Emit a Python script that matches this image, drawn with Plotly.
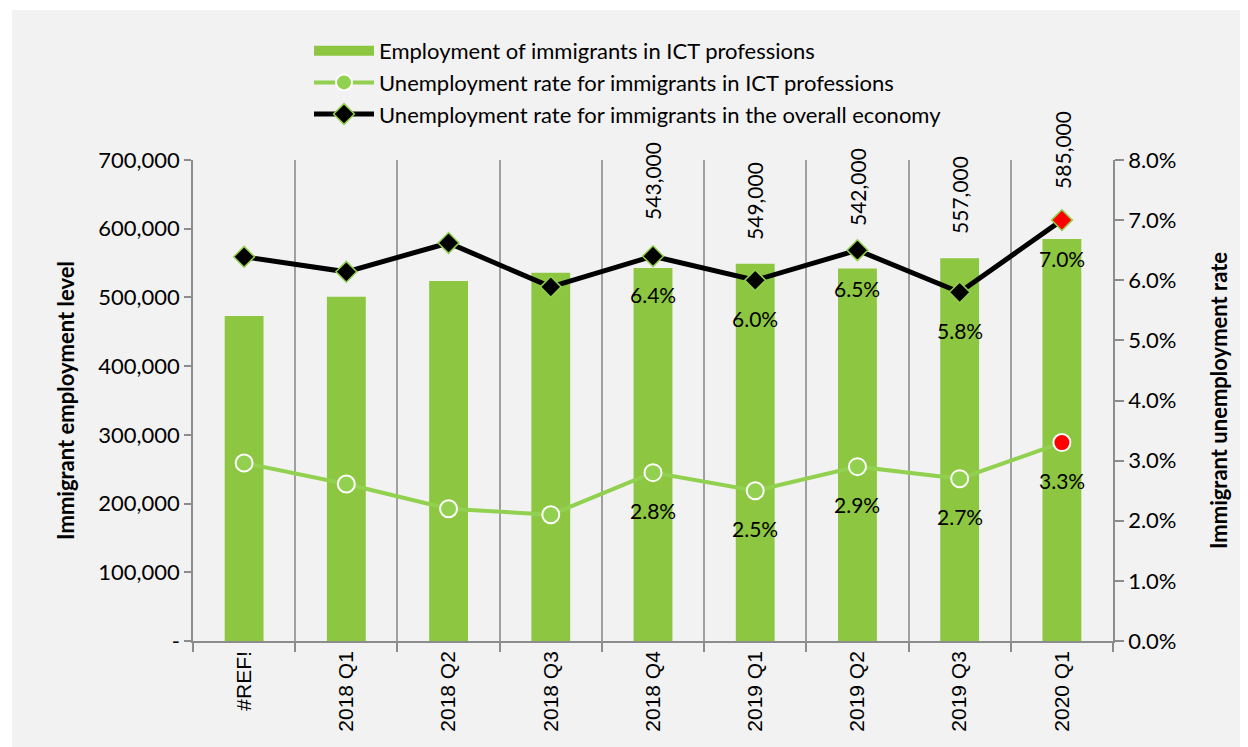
import plotly.graph_objects as go

categories = ["#REF!", "2018 Q1", "2018 Q2", "2018 Q3", "2018 Q4", "2019 Q1", "2019 Q2", "2019 Q3", "2020 Q1"]
employment = [473000, 501000, 524000, 536000, 543000, 549000, 542000, 557000, 585000]
ict_rate = [0.0296, 0.0261, 0.0220, 0.0210, 0.028, 0.025, 0.029, 0.027, 0.033]
overall_rate = [0.0639, 0.0614, 0.0662, 0.0589, 0.064, 0.060, 0.065, 0.058, 0.070]
labelled_from = 4  # data labels shown from 2018 Q4 onward
bar_label_shift = [46, 22, 41, 22, 48]  # pixel gap above bar tops

OFF = 8  # default page body margin
W, H = 1248 - OFF, 747 - OFF
PL, PR, PT, PB = 193, 1113, 160, 641  # plot area in page pixels
L, R, T, B = PL - OFF, 1248 - PR, PT - OFF, 747 - PB
BASE = "Lato"
GREEN = "#8DC641"
LGREEN = "#92D050"

fig = go.Figure()
fig.add_trace(go.Bar(
    x=categories, y=employment, name="Employment of immigrants in ICT professions",
    marker=dict(color=GREEN, line=dict(width=0)), width=0.38, yaxis="y", showlegend=False,
))
# legend swatch for the bars (wide rectangle as in the original)
fig.add_trace(go.Scatter(
    x=[None], y=[None], mode="lines", name="Employment of immigrants in ICT professions",
    line=dict(color=GREEN, width=16), yaxis="y",
))
fig.add_trace(go.Scatter(
    x=categories, y=ict_rate, name="Unemployment rate for immigrants in ICT professions",
    mode="lines+markers", yaxis="y2",
    line=dict(color=LGREEN, width=4),
    marker=dict(symbol="circle", size=17,
                color=[LGREEN] * (len(categories) - 1) + ["#FF0000"],
                line=dict(color="white", width=2)),
))
fig.add_trace(go.Scatter(
    x=categories, y=overall_rate, name="Unemployment rate for immigrants in the overall economy",
    mode="lines+markers", yaxis="y2",
    line=dict(color="black", width=5),
    marker=dict(symbol="diamond", size=16,
                color=["black"] * (len(categories) - 1) + ["#FF0000"],
                line=dict(color=LGREEN, width=1.5)),
))

annotations = []
for i in range(labelled_from, len(categories)):
    annotations.append(dict(
        x=categories[i], y=employment[i], xref="x", yref="y",
        text=f"{employment[i]:,}", textangle=-90, showarrow=False,
        yanchor="bottom", yshift=bar_label_shift[i - labelled_from],
        font=dict(family=BASE, size=21, color="black"),
    ))
    for series in (ict_rate, overall_rate):
        annotations.append(dict(
            x=categories[i], y=series[i], xref="x", yref="y2",
            text=f"{series[i]*100:.1f}%", showarrow=False,
            yanchor="middle", yshift=-38,
            font=dict(family=BASE, size=21, color="black"),
        ))

pw, ph = PR - PL, PB - PT
def px_x(p):
    return (p - PL) / pw
def px_y(p):
    return (PB - p) / ph

fig.update_layout(
    width=W, height=H,
    margin=dict(l=L, r=R, t=T, b=B),
    paper_bgcolor="white", plot_bgcolor="rgba(0,0,0,0)",
    font=dict(family=BASE, size=21, color="black"),
    showlegend=True,
    legend=dict(x=px_x(309), y=px_y(30), xanchor="left", yanchor="top",
                font=dict(family=BASE, size=22), bgcolor="rgba(0,0,0,0)",
                itemwidth=60, tracegroupgap=0),
    shapes=[dict(type="rect", xref="paper", yref="paper", layer="below",
                 x0=px_x(12), x1=px_x(1260), y0=px_y(760), y1=px_y(10),
                 fillcolor="#F2F2F2", line=dict(width=0))],
    annotations=annotations,
    xaxis=dict(
        tickangle=-90, tickson="boundaries", ticks="outside", ticklen=9,
        tickcolor="#8C8C8C", tickwidth=1.5,
        showgrid=True, gridcolor="#A0A0A0", gridwidth=1.5,
        showline=True, linecolor="#8C8C8C", linewidth=1.5,
        tickfont=dict(family="Liberation Sans", size=21),
        range=[-0.5, len(categories) - 0.5],
    ),
    yaxis=dict(
        range=[0, 700000], tickvals=[0, 100000, 200000, 300000, 400000, 500000, 600000, 700000],
        ticktext=["-", "100,000", "200,000", "300,000", "400,000", "500,000", "600,000", "700,000"],
        showgrid=False, zeroline=False, showline=True, linecolor="#8C8C8C", linewidth=1.5,
        ticks="outside", ticklen=7, tickcolor="#8C8C8C", tickwidth=1.5,
        title=dict(text="<b>Immigrant employment level</b>", font=dict(family=BASE, size=22), standoff=18),
        tickfont=dict(family=BASE, size=22),
    ),
    yaxis2=dict(
        range=[0, 0.08], overlaying="y", side="right", tickformat=".1%", dtick=0.01,
        showgrid=False, zeroline=False, showline=True, linecolor="#8C8C8C", linewidth=1.5,
        ticks="outside", ticklen=9, tickcolor="#8C8C8C", tickwidth=1.5,
        title=dict(text="<b>Immigrant unemployment rate</b>", font=dict(family=BASE, size=22), standoff=36),
        tickfont=dict(family=BASE, size=22),
    ),
)

fig.write_html("out.html")
